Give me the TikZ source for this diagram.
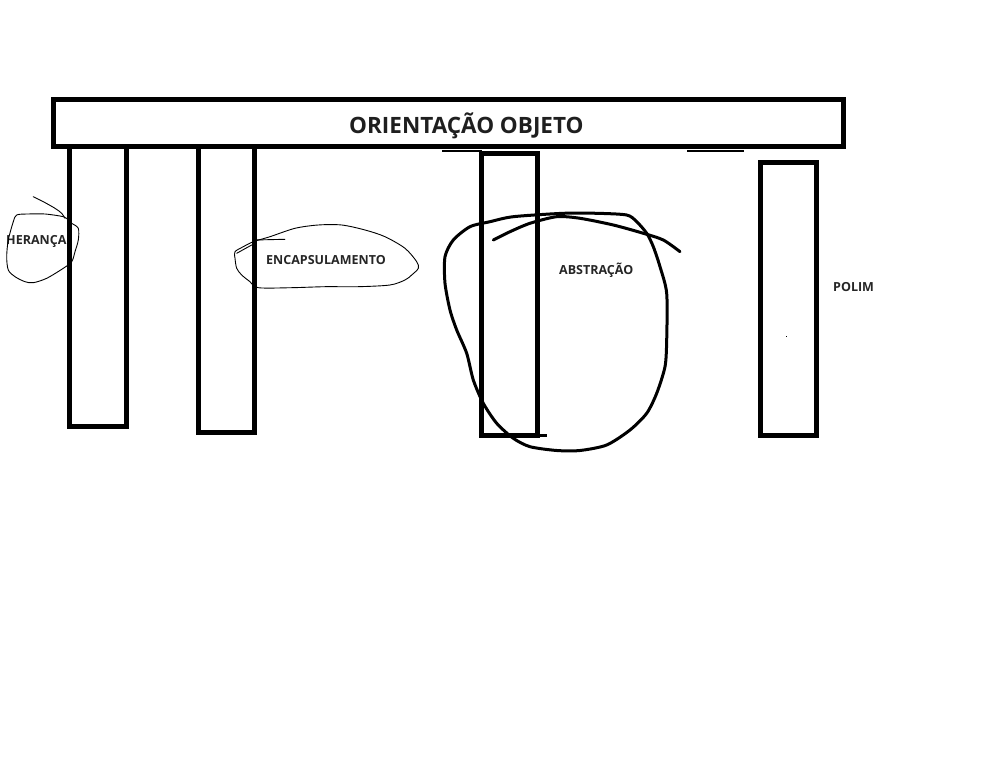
\documentclass[tikz,border=0pt]{standalone}
\usepackage{fontspec}
\setmainfont{Open Sans}
\begin{document}
\begin{tikzpicture}[x=1pt,y=-1pt,
  pillar/.style={draw=black, fill=white, line width=5pt, inner sep=0pt, outer sep=0pt},
  label/.style={anchor=base west, inner sep=0pt, font=\bfseries\fontsize{12.5}{14}\selectfont, text=black!85},
  thin/.style={line width=0.9pt, line join=round, line cap=round},
  bold/.style={line width=3pt, line join=round, line cap=round}]
\useasboundingbox (0,0) rectangle (1002,783);
\fill[white] (0,0) rectangle (1002,783);
% pillars
\node[pillar, minimum width=57pt, minimum height=280pt] (p1) at (98.3,286.5) {};
\node[pillar, minimum width=55.7pt, minimum height=285.8pt] (p2) at (226.35,289.4) {};
\node[pillar, minimum width=56pt, minimum height=282pt] (p3) at (509.5,295) {};
\node[pillar, minimum width=56pt, minimum height=273pt] (p4) at (788,299) {};
% top bar
\node[pillar, minimum width=790pt, minimum height=47pt] (bar) at (448.5,123) {};
\node[anchor=base west, inner sep=0pt, font=\bfseries\fontsize{22.5}{26}\selectfont, text=black!88] (title) at (349,134) {ORIENTAÇÃO OBJETO};
% small strokes
\draw[line width=2pt] (442,151) -- (482,151);
\draw[line width=1.5pt] (687,151) -- (744,151);
\draw[line width=3pt] (p3.south west) -- ++(65,0);
\fill[black] (785.5,336.5) rectangle (786.5,337.5);
% labels
\node[label] (heranca) at (6,245) {HERANÇA};
\node[label] (encap) at (266,265) {ENCAPSULAMENTO};
\node[label] (abstr) at (559,275) {ABSTRAÇÃO};
\node[label] (polim) at (833,292) {POLIM};
% heranca loop
\draw[thin] plot[smooth, tension=0.5] coordinates {(33.3,196.7) (43.3,201.7) (55,208.3) (61.7,213.3) (65,218.3)};
\draw[thin] plot[smooth cycle, tension=0.5] coordinates {(63.3,216.7) (45,214) (28,214) (16.7,215) (13.3,221.7) (8.3,240) (6.7,256.7) (8.3,270) (15,276.7) (25,281.7) (33.3,282.7) (46.7,278.3) (63.3,268.3) (71.7,261.7) (75,251.7) (78.3,240) (78.3,228.3) (71.7,223.3) (68.3,220)};
% encapsulamento blob
\draw[thin] plot[smooth cycle, tension=0.5] coordinates {(253.3,241.7) (270,236.7) (295,228.3) (318.3,225) (341.7,225) (365,230) (385,236.7) (405,248.3) (416.7,261.7) (418.3,268.3) (411.7,275) (405,280) (390,285) (358.3,286.7) (325,286.7) (291.7,287.7) (258.3,287.7) (250,281.7) (241.7,275) (236.7,268.3) (235,258.3) (235,251.7) (243.3,246.7)};
\draw[thin] (255,240) -- (285,239.3);
\draw[thin] (236.7,253.3) -- (251.7,245);
% abstracao loop
\draw[bold] plot[smooth cycle, tension=0.45] coordinates {(470,226.7) (490,221.7) (513.3,216.7) (563.3,213.3) (596.7,213.3) (626.7,215) (636.7,221.7) (646.7,233.3) (653.3,246.7) (660,266.7) (666.7,293.3) (666.7,340) (665,366.7) (656.7,393.3) (646.7,413.3) (630,430) (606.7,445) (580,450.5) (556.7,450.5) (530,446.7) (513.3,438.3) (496.7,423.3) (483.3,403.3) (473.3,380) (466.7,353.3) (456.7,330) (450,310) (445,283.3) (445,256.7) (453.3,240)};
\draw[bold] plot[smooth, tension=0.45] coordinates {(493.3,240) (510,231.7) (530,223.3) (556.7,216.7) (580,218.3) (613.3,225) (643.3,233.3) (663.3,240) (680,251.7)};
\end{tikzpicture}
\end{document}
